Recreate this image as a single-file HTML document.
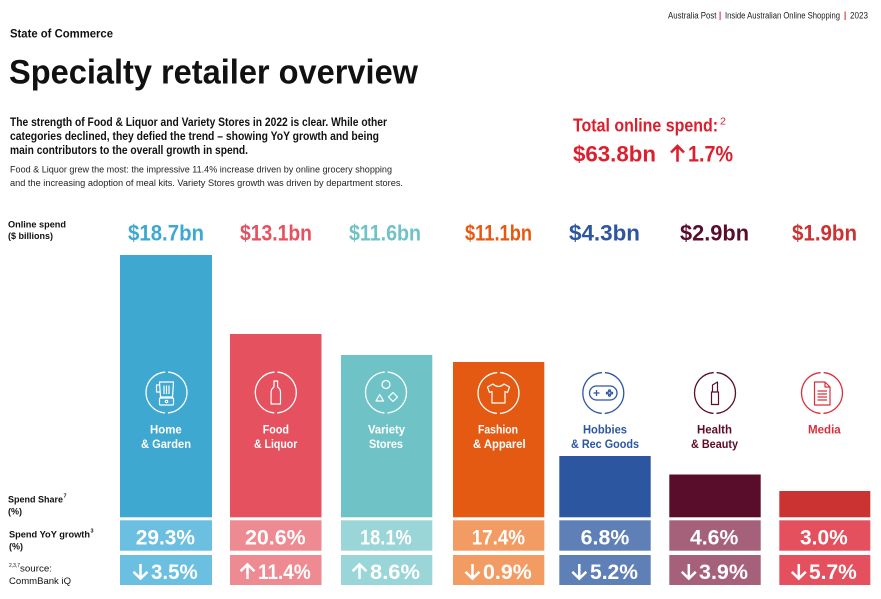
<!DOCTYPE html>
<html>
<head>
<meta charset="utf-8">
<style>
  html, body { margin: 0; padding: 0; background: #ffffff; }
  body { width: 881px; height: 599px; overflow: hidden; }
  svg { display: block; }
  text { font-family: "Liberation Sans", Arial, sans-serif; }
  .b { font-weight: bold; }
</style>
</head>
<body>
<svg width="881" height="599" viewBox="0 0 881 599" xmlns="http://www.w3.org/2000/svg">
  <rect width="881" height="599" fill="#ffffff"/>

  <!-- Header -->
  <text x="668" y="18.5" font-size="9" fill="#1a1a1a" textLength="48.5" lengthAdjust="spacingAndGlyphs">Australia Post</text>
  <rect x="719.6" y="11.5" width="1" height="8.5" fill="#dc1f2e"/>
  <text x="725" y="18.5" font-size="9" fill="#1a1a1a" textLength="115" lengthAdjust="spacingAndGlyphs">Inside Australian Online Shopping</text>
  <rect x="844.6" y="11.5" width="1" height="8.5" fill="#dc1f2e"/>
  <text x="850" y="18.5" font-size="9" fill="#1a1a1a" textLength="18" lengthAdjust="spacingAndGlyphs">2023</text>

  <!-- Title block -->
  <text class="b" x="10" y="37.6" font-size="11.6" fill="#111" textLength="103" lengthAdjust="spacingAndGlyphs">State of Commerce</text>
  <text class="b" x="9" y="83.3" font-size="34.5" fill="#111" textLength="409" lengthAdjust="spacingAndGlyphs">Specialty retailer overview</text>

  <text class="b" x="10" y="126" font-size="11.6" fill="#111" textLength="377" lengthAdjust="spacingAndGlyphs">The strength of Food &amp; Liquor and Variety Stores in 2022 is clear. While other</text>
  <text class="b" x="10" y="140" font-size="11.6" fill="#111" textLength="369" lengthAdjust="spacingAndGlyphs">categories declined, they defied the trend – showing YoY growth and being</text>
  <text class="b" x="10" y="154" font-size="11.6" fill="#111" textLength="238" lengthAdjust="spacingAndGlyphs">main contributors to the overall growth in spend.</text>

  <text x="10" y="172.7" font-size="9.6" fill="#222" textLength="382" lengthAdjust="spacingAndGlyphs">Food &amp; Liquor grew the most: the impressive 11.4% increase driven by online grocery shopping</text>
  <text x="10" y="186" font-size="9.6" fill="#222" textLength="393" lengthAdjust="spacingAndGlyphs">and the increasing adoption of meal kits. Variety Stores growth was driven by department stores.</text>

  <!-- Total online spend -->
  <text class="b" x="573" y="131.6" font-size="18.3" fill="#dc1f2e" textLength="145" lengthAdjust="spacingAndGlyphs">Total online spend:</text>
  <text x="720" y="124.5" font-size="10" fill="#dc1f2e" textLength="6" lengthAdjust="spacingAndGlyphs">2</text>
  <text class="b" x="573" y="161.7" font-size="22.5" fill="#dc1f2e" textLength="83" lengthAdjust="spacingAndGlyphs">$63.8bn</text>
  <path d="M677.5,146 V161.7 M671,152.5 L677.5,146 L684,152.5" fill="none" stroke="#dc1f2e" stroke-width="2.6"/>
  <text class="b" x="688" y="161.7" font-size="22.5" fill="#dc1f2e" textLength="45" lengthAdjust="spacingAndGlyphs">1.7%</text>

  <!-- Left axis labels -->
  <text class="b" x="8" y="227.3" font-size="9.2" fill="#111" textLength="58" lengthAdjust="spacingAndGlyphs">Online spend</text>
  <text class="b" x="8" y="239" font-size="9.2" fill="#111" textLength="45" lengthAdjust="spacingAndGlyphs">($ billions)</text>

  <text class="b" x="8" y="502.3" font-size="9.2" fill="#111" textLength="55" lengthAdjust="spacingAndGlyphs">Spend Share</text>
  <text class="b" x="63.5" y="497.5" font-size="5.5" fill="#111">7</text>
  <text class="b" x="8" y="514.5" font-size="9.2" fill="#111" textLength="14" lengthAdjust="spacingAndGlyphs">(%)</text>

  <text class="b" x="9" y="537.3" font-size="9.2" fill="#111" textLength="81" lengthAdjust="spacingAndGlyphs">Spend YoY growth</text>
  <text class="b" x="90.5" y="532.5" font-size="5.5" fill="#111">3</text>
  <text class="b" x="9" y="549.5" font-size="9.2" fill="#111" textLength="14" lengthAdjust="spacingAndGlyphs">(%)</text>

  <text x="9" y="567" font-size="5.5" fill="#111" textLength="11" lengthAdjust="spacingAndGlyphs">2,3,7</text>
  <text x="20" y="571.7" font-size="9.2" fill="#111" textLength="32" lengthAdjust="spacingAndGlyphs">source:</text>
  <text x="9" y="584" font-size="9.2" fill="#111" textLength="62" lengthAdjust="spacingAndGlyphs">CommBank iQ</text>

  <!-- Top value labels -->
  <text class="b" x="128" y="240.7" font-size="22" fill="#3fa8d1" textLength="76" lengthAdjust="spacingAndGlyphs">$18.7bn</text>
  <text class="b" x="240" y="240.7" font-size="22" fill="#e5515e" textLength="72" lengthAdjust="spacingAndGlyphs">$13.1bn</text>
  <text class="b" x="349" y="240.7" font-size="22" fill="#6fc3c6" textLength="72" lengthAdjust="spacingAndGlyphs">$11.6bn</text>
  <text class="b" x="465" y="240.7" font-size="22" fill="#e55a12" textLength="67" lengthAdjust="spacingAndGlyphs">$11.1bn</text>
  <text class="b" x="569" y="240.7" font-size="22" fill="#2c56a0" textLength="71" lengthAdjust="spacingAndGlyphs">$4.3bn</text>
  <text class="b" x="680" y="240.7" font-size="22" fill="#5a0d2a" textLength="69" lengthAdjust="spacingAndGlyphs">$2.9bn</text>
  <text class="b" x="792" y="240.7" font-size="22" fill="#cb3232" textLength="65" lengthAdjust="spacingAndGlyphs">$1.9bn</text>

  <!-- Bars -->
  <rect x="120" y="255" width="92" height="262.3" fill="#3fa8d1"/>
  <rect x="230" y="334" width="91.5" height="183.3" fill="#e5515e"/>
  <rect x="341" y="355" width="91.3" height="162.3" fill="#6fc3c6"/>
  <rect x="453" y="362" width="91.3" height="155.3" fill="#e55a12"/>
  <rect x="559.3" y="456" width="91.4" height="61.3" fill="#2c56a0"/>
  <rect x="669.3" y="474.5" width="91.4" height="42.8" fill="#5a0d2a"/>
  <rect x="779.3" y="491" width="91" height="26.3" fill="#cb3232"/>

  <!-- Row 1 boxes (spend share) -->
  <rect x="120" y="520.3" width="92" height="30.4" fill="#6bbfe0"/>
  <rect x="230" y="520.3" width="91.5" height="30.4" fill="#ee8a91"/>
  <rect x="341" y="520.3" width="91.3" height="30.4" fill="#9ad5d8"/>
  <rect x="453" y="520.3" width="91.3" height="30.4" fill="#f29c63"/>
  <rect x="559.3" y="520.3" width="91.4" height="30.4" fill="#5f7fb7"/>
  <rect x="669.3" y="520.3" width="91.4" height="30.4" fill="#a5607a"/>
  <rect x="779.3" y="520.3" width="91" height="30.4" fill="#e5505f"/>

  <!-- Row 2 boxes (YoY growth) -->
  <rect x="120" y="555" width="92" height="30" fill="#6bbfe0"/>
  <rect x="230" y="555" width="91.5" height="30" fill="#ee8a91"/>
  <rect x="341" y="555" width="91.3" height="30" fill="#9ad5d8"/>
  <rect x="453" y="555" width="91.3" height="30" fill="#f29c63"/>
  <rect x="559.3" y="555" width="91.4" height="30" fill="#5f7fb7"/>
  <rect x="669.3" y="555" width="91.4" height="30" fill="#a5607a"/>
  <rect x="779.3" y="555" width="91" height="30" fill="#e5505f"/>

  <!-- Row 1 values -->
  <g class="b" font-size="21" fill="#ffffff" font-weight="bold">
    <text x="135.7" y="544.3" textLength="59.3" lengthAdjust="spacingAndGlyphs">29.3%</text>
    <text x="245" y="544.3" textLength="60.7" lengthAdjust="spacingAndGlyphs">20.6%</text>
    <text x="360" y="544.3" textLength="51.7" lengthAdjust="spacingAndGlyphs">18.1%</text>
    <text x="471.7" y="544.3" textLength="53.3" lengthAdjust="spacingAndGlyphs">17.4%</text>
    <text x="580.7" y="544.3" textLength="48.6" lengthAdjust="spacingAndGlyphs">6.8%</text>
    <text x="690" y="544.3" textLength="48.3" lengthAdjust="spacingAndGlyphs">4.6%</text>
    <text x="800" y="544.3" textLength="47.7" lengthAdjust="spacingAndGlyphs">3.0%</text>
  </g>

  <!-- Row 2 values -->
  <g font-size="21" fill="#ffffff" font-weight="bold">
    <text x="151" y="579" textLength="46.7" lengthAdjust="spacingAndGlyphs">3.5%</text>
    <text x="258" y="579" textLength="52.7" lengthAdjust="spacingAndGlyphs">11.4%</text>
    <text x="370" y="579" textLength="50" lengthAdjust="spacingAndGlyphs">8.6%</text>
    <text x="483" y="579" textLength="48.7" lengthAdjust="spacingAndGlyphs">0.9%</text>
    <text x="590" y="579" textLength="48" lengthAdjust="spacingAndGlyphs">5.2%</text>
    <text x="699" y="579" textLength="49" lengthAdjust="spacingAndGlyphs">3.9%</text>
    <text x="809" y="579" textLength="47.7" lengthAdjust="spacingAndGlyphs">5.7%</text>
  </g>
  <!-- Row 2 arrows -->
  <g fill="none" stroke="#ffffff" stroke-width="2.5">
    <path d="M140.5,564 V578.6 M133.5,571.8 L140.5,578.6 L147.5,571.8"/>
    <path d="M247.5,579 V564.4 M240.5,571.2 L247.5,564.4 L254.5,571.2"/>
    <path d="M359.5,579 V564.4 M352.5,571.2 L359.5,564.4 L366.5,571.2"/>
    <path d="M472.5,564 V578.6 M465.5,571.8 L472.5,578.6 L479.5,571.8"/>
    <path d="M579.3,564 V578.6 M572.3,571.8 L579.3,578.6 L586.3,571.8"/>
    <path d="M688.8,564 V578.6 M681.8,571.8 L688.8,578.6 L695.8,571.8"/>
    <path d="M798.8,564 V578.6 M791.8,571.8 L798.8,578.6 L805.8,571.8"/>
  </g>

  <!-- Icon circles -->
  <g fill="none" stroke-width="1.3" stroke-dasharray="30.7 3 61.4 3 30.7 0">
    <circle cx="166.5" cy="392.5" r="20.5" stroke="#ffffff"/>
    <circle cx="275.8" cy="392.5" r="20.5" stroke="#ffffff"/>
    <circle cx="386" cy="392.5" r="20.5" stroke="#ffffff"/>
    <circle cx="498.5" cy="393" r="20.5" stroke="#ffffff"/>
    <circle cx="603.3" cy="393" r="20.5" stroke="#2c56a0"/>
    <circle cx="715" cy="393" r="20.5" stroke="#5a0d2a"/>
    <circle cx="822" cy="393" r="20.5" stroke="#d8303c"/>
  </g>

  <!-- Icon glyphs -->
  <g fill="none" stroke="#ffffff" stroke-width="1.2" stroke-linejoin="round">
    <!-- blender -->
    <path d="M159.5,382 H173.5 L172.5,397 H160.5 Z"/>
    <path d="M159.5,385 H156.5 V392 H160"/>
    <path d="M164,385.5 V394 M166.5,385.5 V394 M169,385.5 V394"/>
    <rect x="159.5" y="398" width="14" height="7" rx="1"/>
    <circle cx="166.5" cy="401.5" r="1.2"/>
    <!-- bottle -->
    <path d="M274,381 H277.6 V387 Q280.5,389 280.5,392 V404 H271.1 V392 Q271.1,389 274,387 Z"/>
    <!-- variety shapes -->
    <circle cx="386" cy="384.5" r="4"/>
    <path d="M376,401 H383.5 L379.7,394.5 Z"/>
    <path d="M393,392.5 L397.5,397 L393,401.5 L388.5,397 Z"/>
    <!-- t-shirt -->
    <path d="M493,384 L487.5,387 L489.5,392.5 L492,391.5 V403 H505 V391.5 L507.5,392.5 L509.5,387 L504,384 Q498.5,389 493,384 Z"/>
  </g>
  <!-- gamepad -->
  <g fill="none" stroke="#2c56a0" stroke-width="1.3">
    <rect x="589.5" y="386" width="27.5" height="14" rx="7"/>
    <path d="M593.5,393 H599.5 M596.5,390 V396"/>
    <circle cx="609.5" cy="390.8" r="0.9"/>
    <circle cx="609.5" cy="395.2" r="0.9"/>
    <circle cx="607.3" cy="393" r="0.9"/>
    <circle cx="611.7" cy="393" r="0.9"/>
  </g>
  <!-- lipstick -->
  <g fill="none" stroke="#5a0d2a" stroke-width="1.2" stroke-linejoin="round">
    <path d="M711.5,392 V404.5 H718.5 V392 Z"/>
    <path d="M712.5,392 V385 L717.5,382 V392"/>
  </g>
  <!-- document -->
  <g fill="none" stroke="#d8303c" stroke-width="1.2" stroke-linejoin="round">
    <path d="M814.5,382 H825 L830,387 V405 H814.5 Z"/>
    <path d="M825,382 V387 H830"/>
    <path d="M817.5,391 H827 M817.5,394 H827 M817.5,397 H827 M817.5,400 H827"/>
  </g>

  <!-- Category labels -->
  <g font-size="12.4" font-weight="bold">
    <text x="150" y="433.3" fill="#ffffff" textLength="31.7" lengthAdjust="spacingAndGlyphs">Home</text>
    <text x="141" y="447.8" fill="#ffffff" textLength="50" lengthAdjust="spacingAndGlyphs">&amp; Garden</text>
    <text x="262.7" y="433.3" fill="#ffffff" textLength="26.3" lengthAdjust="spacingAndGlyphs">Food</text>
    <text x="254" y="447.8" fill="#ffffff" textLength="43.3" lengthAdjust="spacingAndGlyphs">&amp; Liquor</text>
    <text x="368" y="433.3" fill="#ffffff" textLength="37" lengthAdjust="spacingAndGlyphs">Variety</text>
    <text x="369" y="447.8" fill="#ffffff" textLength="34" lengthAdjust="spacingAndGlyphs">Stores</text>
    <text x="478" y="433.3" fill="#ffffff" textLength="40" lengthAdjust="spacingAndGlyphs">Fashion</text>
    <text x="473" y="447.8" fill="#ffffff" textLength="52.7" lengthAdjust="spacingAndGlyphs">&amp; Apparel</text>
    <text x="583" y="433.3" fill="#2c56a0" textLength="44" lengthAdjust="spacingAndGlyphs">Hobbies</text>
    <text x="571" y="447.8" fill="#2c56a0" textLength="68" lengthAdjust="spacingAndGlyphs">&amp; Rec Goods</text>
    <text x="697" y="433.3" fill="#5a0d2a" textLength="35" lengthAdjust="spacingAndGlyphs">Health</text>
    <text x="691" y="447.8" fill="#5a0d2a" textLength="47" lengthAdjust="spacingAndGlyphs">&amp; Beauty</text>
    <text x="808" y="433.3" fill="#d8303c" textLength="32.7" lengthAdjust="spacingAndGlyphs">Media</text>
  </g>
</svg>
</body>
</html>
